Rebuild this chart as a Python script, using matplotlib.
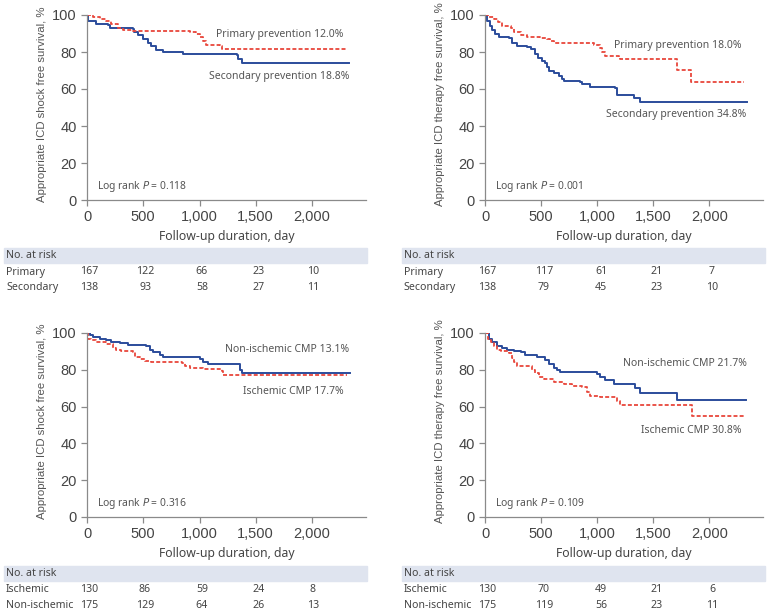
import numpy as np
import matplotlib
matplotlib.use("Agg")
import matplotlib.pyplot as plt

# ---- data (day, survival %) ----
a_prim_t = [0, 53, 113, 172, 217, 276, 320, 410, 914, 973, 1003, 1033, 1062, 1181, 1196, 2309]
a_prim_s = [100, 99, 98, 97, 95, 93, 92, 91.5, 91, 90, 88, 86, 84, 83.5, 81.5, 81.5]
a_sec_t = [0, 9, 83, 187, 202, 409, 420, 454, 498, 543, 573, 617, 677, 855, 1329, 1344, 1374, 2332]
a_sec_s = [100, 97, 95, 94.5, 93, 92.5, 91, 89, 87, 85, 83, 81, 80, 79, 78.5, 76, 74, 74]

b_prim_t = [0, 40, 80, 120, 154, 228, 258, 317, 376, 495, 554, 584, 613, 910, 969, 1028, 1043, 1073,
            1191, 1206, 1710, 1834, 2311]
b_prim_s = [100, 99, 98, 96, 94, 93, 91, 89, 88, 87.5, 87, 86, 85, 85, 84, 82, 80, 78,
            77.5, 76, 70.5, 64, 64]
b_sec_t = [0, 21, 44, 65, 86, 124, 213, 243, 287, 376, 406, 450, 471, 510, 539, 554, 569, 613, 658,
           687, 702, 850, 865, 939, 1161, 1176, 1319, 1330, 1384, 2338]
b_sec_s = [100, 97, 94, 92, 90, 88, 87.5, 85, 83.5, 82.5, 81.5, 79, 77, 75, 74, 72, 70, 68.5, 67,
           65.5, 64.5, 64, 62.5, 61, 60.5, 57, 57, 55, 53, 53]

c_non_t = [0, 24, 55, 113, 172, 215, 291, 365, 528, 558, 587, 647, 677, 973, 1003, 1033, 1077,
           1329, 1359, 1374, 2338]
c_non_s = [100, 99, 98, 97, 96, 95, 94.5, 93.5, 93, 91, 89.5, 88, 87, 87, 86, 84.5, 83,
           83, 80, 78, 78]
c_isc_t = [0, 9, 39, 83, 172, 231, 261, 306, 409, 424, 469, 513, 573, 840, 869, 914, 1033, 1196,
           1205, 2309]
c_isc_s = [100, 97, 96, 95, 94, 92, 91, 90, 89.5, 87, 86, 85, 84, 83.5, 82, 81, 80.5, 79.5,
           77, 77]

d_non_t = [0, 36, 65, 110, 154, 198, 258, 317, 361, 465, 539, 569, 613, 643, 673, 999, 1028, 1073,
           1147, 1339, 1384, 1710, 2332]
d_non_s = [100, 97, 95, 93, 92, 91, 90, 89.5, 88, 87, 85.5, 83, 81, 80, 79, 77.5, 76, 74.5,
           72.5, 70, 67.5, 63.5, 63.5]
d_isc_t = [0, 27, 50, 80, 110, 139, 213, 243, 258, 287, 421, 450, 480, 524, 613, 702, 776, 865,
           910, 939, 1028, 1176, 1206, 1843, 2311]
d_isc_s = [100, 97, 95, 93, 91, 90, 89, 86.5, 84, 82, 80, 78, 76, 75, 73.5, 72.5, 71, 70.5,
           68, 66, 65, 63, 61, 55, 55]

risk_top_rows = ["Primary", "Secondary"]
risk_bot_rows = ["Ischemic", "Non-ischemic"]
risk_a = [[167, 122, 66, 23, 10], [138, 93, 58, 27, 11]]
risk_b = [[167, 117, 61, 21, 7], [138, 79, 45, 23, 10]]
risk_c = [[130, 86, 59, 24, 8], [175, 129, 64, 26, 13]]
risk_d = [[130, 70, 49, 21, 6], [175, 119, 56, 23, 11]]

BLUE = "#2b4c9b"
RED = "#e8473b"
TXT = "#555555"
AX = "#8a8a8a"
BAND = "#dfe4ef"
W, H = 767, 611

plt.rcParams["font.family"] = ["Noto Sans", "DejaVu Sans"]

fig = plt.figure(figsize=(W / 100, H / 100), dpi=100)


def px_axes(x0, x1, ytop, ybot):
    return fig.add_axes([x0 / W, 1 - ybot / H, (x1 - x0) / W, (ybot - ytop) / H])


def panel(ax, red, blue, lab_red, lab_blue, ylabel, pval):
    ax.step(blue[0], blue[1], where="post", color=BLUE, lw=1.4)
    ax.step(red[0], red[1], where="post", color=RED, lw=1.3, ls=(0, (2.2, 1.2)))
    ax.set_xlim(0, 2480)
    ax.set_ylim(0, 100)
    ax.set_xticks([0, 500, 1000, 1500, 2000])
    ax.set_xticklabels(["0", "500", "1,000", "1,500", "2,000"])
    ax.set_yticks([0, 20, 40, 60, 80, 100])
    for s in ["top", "right"]:
        ax.spines[s].set_visible(False)
    for s in ["left", "bottom"]:
        ax.spines[s].set_color(AX)
        ax.spines[s].set_linewidth(0.9)
    ax.tick_params(colors=AX, labelcolor="#444444", length=4, width=0.9, labelsize=10.5)
    for lbl in ax.get_xticklabels() + ax.get_yticklabels():
        lbl.set_family("Liberation Sans")
    ax.set_ylabel(ylabel, color=TXT, fontsize=8.2, labelpad=5, family="Liberation Sans")
    ax.yaxis.set_label_coords(-0.145, 0.52)
    ax.set_xlabel("Follow-up duration, day", color="#444444", fontsize=8.8, labelpad=4)
    ax.text(lab_red[0], lab_red[1], lab_red[2], ha="right", va="center", color=TXT, fontsize=7.5)
    ax.text(lab_blue[0], lab_blue[1], lab_blue[2], ha="right", va="center", color=TXT, fontsize=7.5)
    ax.text(85, 7.4, "Log rank $\\it{P}$ = " + pval, ha="left", va="center", color=TXT, fontsize=7.4)


def risk_table(x0, x1, yband, rows, vals, xcols):
    fig.patches.append(plt.Rectangle((x0 / W, 1 - (yband + 15) / H), (x1 - x0) / W, 15 / H,
                                     transform=fig.transFigure, color=BAND, zorder=0))
    fig.text((x0 + 2) / W, 1 - (yband + 7.5) / H, "No. at risk", ha="left", va="center",
             color="#444444", fontsize=7.6)
    for r, name in enumerate(rows):
        yy = 1 - (yband + 24 + 15.5 * r) / H
        fig.text((x0 + 2) / W, yy, name, ha="left", va="center", color="#444444", fontsize=7.6)
        for c, v in enumerate(vals[r]):
            fig.text(xcols[c] / W, yy, str(v), ha="center", va="center", color="#444444",
                     fontsize=7.6)


ax_a = px_axes(87, 366, 15, 200)
panel(ax_a, (a_prim_t, a_prim_s), (a_sec_t, a_sec_s),
      (2279, 89.7, "Primary prevention 12.0%"), (2332, 67, "Secondary prevention 18.8%"),
      "Appropriate ICD shock free survival, %", "0.118")
ax_b = px_axes(485, 763, 15, 200)
panel(ax_b, (b_prim_t, b_prim_s), (b_sec_t, b_sec_s),
      (2287, 83.7, "Primary prevention 18.0%"), (2332, 46, "Secondary prevention 34.8%"),
      "Appropriate ICD therapy free survival, %", "0.001")
ax_c = px_axes(87, 366, 333, 517)
panel(ax_c, (c_isc_t, c_isc_s), (c_non_t, c_non_s),
      (2285, 68.3, "Ischemic CMP 17.7%"), (2332, 91, "Non-ischemic CMP 13.1%"),
      "Appropriate ICD shock free survival, %", "0.316")
ax_d = px_axes(485, 763, 333, 517)
panel(ax_d, (d_isc_t, d_isc_s), (d_non_t, d_non_s),
      (2287, 47, "Ischemic CMP 30.8%"), (2332, 83.3, "Non-ischemic CMP 21.7%"),
      "Appropriate ICD therapy free survival, %", "0.109")

risk_table(4, 367, 248, risk_top_rows, risk_a, [89, 145, 202, 259, 313])
risk_table(402, 765, 248, risk_top_rows, risk_b, [487, 544, 601, 657, 712])
risk_table(4, 367, 566, risk_bot_rows, risk_c, [89, 145, 202, 259, 313])
risk_table(402, 765, 566, risk_bot_rows, risk_d, [487, 544, 601, 657, 712])

fig.savefig("out.png", dpi=100)
